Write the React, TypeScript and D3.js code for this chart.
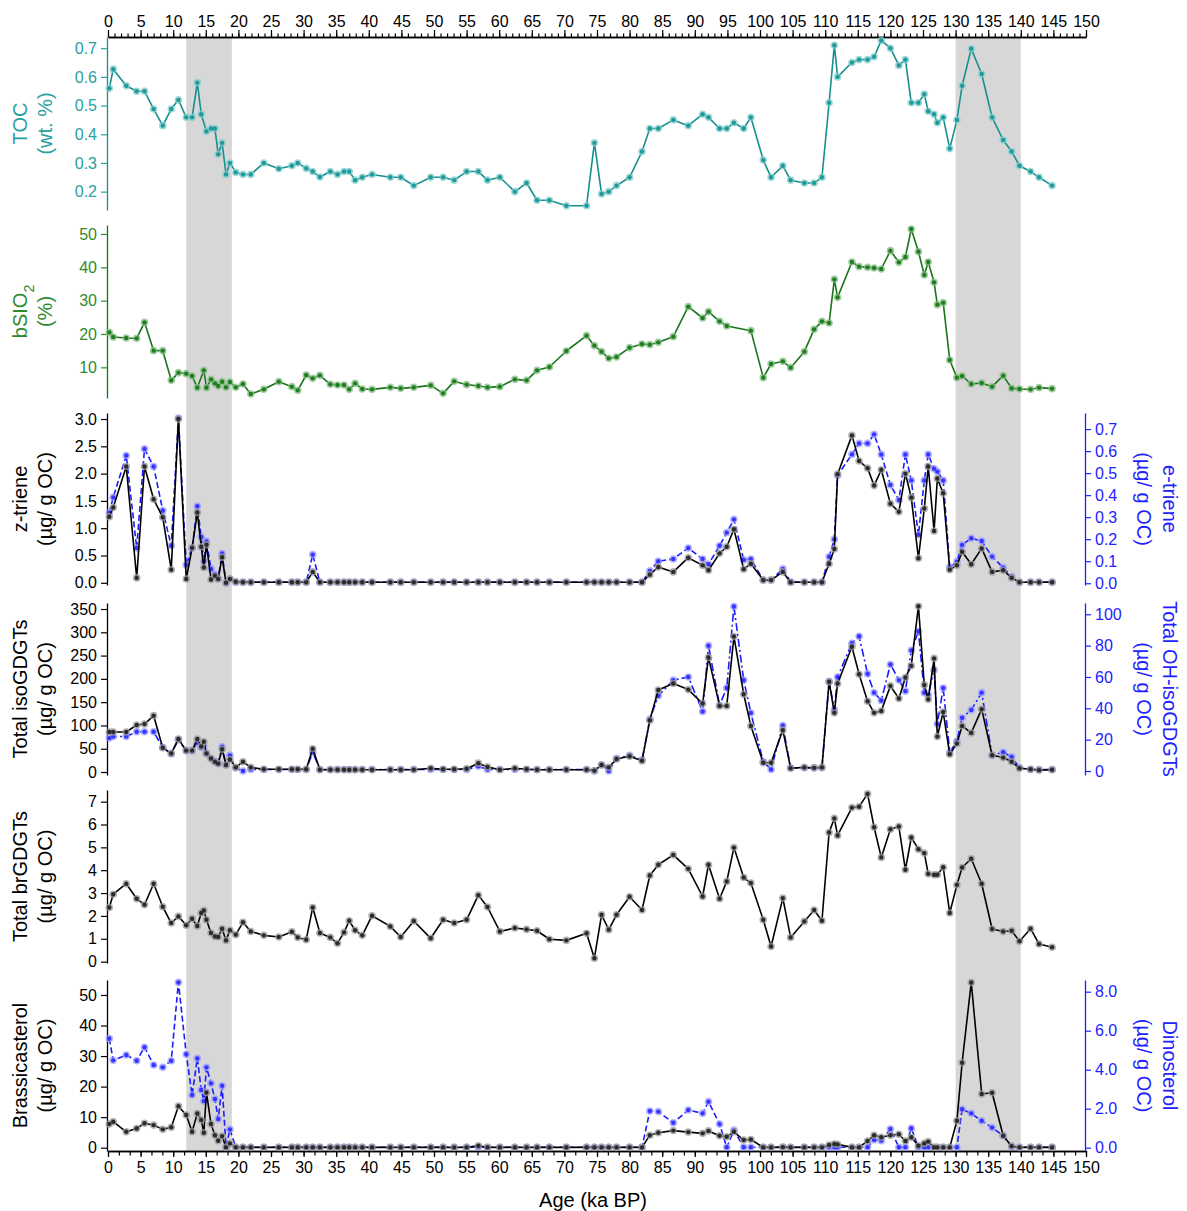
import React, { useEffect, useRef } from "react";
import * as d3 from "d3";

// sample ages (ka BP), shared by every record
const AGE = [
  0.2, 0.8, 2.8, 4.4, 5.6, 7.0, 8.4, 9.7, 10.8, 12.0,
  12.9, 13.7, 14.3, 14.7, 15.1, 15.8, 16.4, 16.9, 17.5, 18.1,
  18.7, 19.6, 20.7, 21.9, 23.9, 26.2, 28.2, 29.1, 30.4, 31.4,
  32.5, 34.1, 35.2, 36.2, 37.0, 37.9, 39.0, 40.5, 43.3, 44.9,
  46.9, 49.5, 51.4, 53.1, 55.0, 56.8, 58.2, 60.1, 62.4, 64.2,
  65.8, 67.7, 70.3, 73.4, 74.6, 75.7, 76.8, 78.0, 80.0, 81.9,
  83.1, 84.4, 86.7, 89.0, 91.2, 92.1, 93.8, 94.9, 96.0, 97.5,
  98.6, 100.5, 101.7, 103.5, 104.7, 106.8, 108.3, 109.5, 110.6, 111.4,
  111.9, 114.1, 115.2, 116.5, 117.5, 118.6, 120.0, 121.3, 122.3, 123.2,
  124.3, 125.2, 125.8, 126.7, 127.2, 128.1, 129.1, 130.2, 131.0, 132.4,
  134.0, 135.6, 137.3, 138.6, 139.8, 141.5, 142.8, 144.8,
];

const TOC = [
  0.56, 0.627, 0.569, 0.55, 0.55, 0.488, 0.43, 0.488, 0.52, 0.459,
  0.459, 0.58, 0.47, null, 0.41, 0.42, 0.42, 0.33, 0.37, 0.26,
  0.30, 0.267, 0.26, 0.26, 0.30, 0.28, 0.29, 0.30, 0.281, 0.27,
  0.251, 0.27, 0.26, 0.27, 0.27, 0.24, 0.25, 0.26, 0.25, 0.25,
  0.221, 0.25, 0.25, 0.24, 0.27, 0.27, 0.24, 0.25, 0.20, 0.23,
  0.17, 0.17, 0.151, 0.151, 0.37, 0.192, 0.20, 0.221, 0.25, 0.34,
  0.42, 0.42, 0.45, 0.43, 0.47, 0.459, 0.42, 0.42, 0.44, 0.42,
  0.459, 0.31, 0.25, 0.29, 0.24, 0.23, 0.23, 0.25, 0.51, 0.71,
  0.60, 0.65, 0.66, 0.66, 0.67, 0.727, 0.70, 0.64, 0.66, 0.51,
  0.51, 0.54, 0.48, 0.47, 0.44, 0.459, 0.35, 0.45, 0.569, 0.698,
  0.61, 0.459, 0.38, 0.34, 0.29, 0.27, 0.25, 0.221,
];

const BSIO2 = [
  20.5, 19.1, 18.8, 18.7, 23.5, 15.0, 15.0, 6.1, 8.4, 8.1,
  7.4, 3.9, null, 9.1, 3.9, 6.4, 5.2, 4.4, 5.7, 4.0,
  5.6, 4.0, 5.0, 2.0, 3.4, 5.7, 4.2, 3.1, 7.7, 6.7,
  7.6, 4.9, 4.7, 4.7, 3.4, 5.2, 3.5, 3.4, 4.0, 3.7,
  4.0, 4.6, 2.2, 5.8, 4.8, 4.4, 4.0, 4.2, 6.4, 6.1,
  9.1, 10.1, 14.9, 19.5, 16.5, 14.7, 12.7, 13.1, 15.9, 17.0,
  16.8, 17.5, 19.2, 28.2, 24.8, 26.7, 23.8, 22.4, null, null,
  21.0, 6.9, 11.0, 11.8, 9.9, 14.7, 21.4, 23.8, 23.3, 36.4,
  31.0, 41.6, 40.2, 40.0, 39.8, 39.5, 45.0, 41.5, 43.1, 51.5,
  44.7, 37.7, 41.6, 35.5, 28.8, 29.4, 12.2, 6.9, 7.4, 5.0,
  5.3, 4.2, 7.5, 3.7, 3.5, 3.4, 3.9, 3.6,
];

const Z_TRIENE = [
  1.21, 1.38, 2.13, 0.09, 2.13, 1.53, 1.20, 0.24, 3.0, 0.07,
  0.64, 1.29, 0.66, 0.28, 0.70, 0.06, 0.13, 0.07, 0.47, 0.0,
  0.07, 0.02, 0.01, 0.01, 0.01, 0.01, 0.01, 0.01, 0.01, 0.2,
  0.01, 0.01, 0.01, 0.01, 0.01, 0.01, 0.01, 0.01, 0.01, 0.01,
  0.01, 0.01, 0.01, 0.01, 0.01, 0.01, 0.01, 0.01, 0.01, 0.01,
  0.01, 0.01, 0.01, 0.01, 0.01, 0.01, 0.01, 0.01, 0.01, 0.01,
  0.15, 0.29, 0.2, 0.46, 0.32, 0.23, 0.54, 0.66, 0.98, 0.25,
  0.35, 0.05, 0.05, 0.2, 0.01, 0.01, 0.01, 0.01, 0.35, 0.62,
  1.99, 2.70, 2.23, 2.10, 1.78, 2.07, 1.45, 1.30, 2.0, 1.56,
  0.45, 1.36, 2.13, 0.95, 1.91, 1.64, 0.24, 0.32, 0.57, 0.34,
  0.63, 0.2, 0.23, 0.09, 0.01, 0.01, 0.01, 0.01,
];

const E_TRIENE = [
  0.32, 0.39, 0.58, 0.16, 0.61, 0.53, 0.33, 0.17, 0.75, 0.083,
  0.16, 0.35, 0.21, 0.10, 0.19, 0.065, 0.04, 0.02, 0.135, 0.0,
  0.02, 0.005, 0.005, 0.005, 0.005, 0.005, 0.005, 0.005, 0.005, 0.13,
  0.005, 0.005, 0.005, 0.005, 0.005, 0.005, 0.005, 0.005, 0.005, 0.005,
  0.005, 0.005, 0.005, 0.005, 0.005, 0.005, 0.005, 0.005, 0.005, 0.005,
  0.005, 0.005, 0.005, 0.005, 0.005, 0.005, 0.005, 0.005, 0.005, 0.005,
  0.056, 0.10, 0.11, 0.16, 0.11, 0.086, 0.17, 0.23, 0.29, 0.106,
  0.11, 0.015, 0.015, 0.065, 0.005, 0.005, 0.005, 0.005, 0.12, 0.2,
  0.49, 0.585, 0.635, 0.635, 0.676, 0.585, 0.446, 0.378, 0.585, 0.467,
  0.22, 0.467, 0.585, 0.52, 0.507, 0.467, 0.073, 0.098, 0.174, 0.204,
  0.192, 0.121, 0.071, 0.03, 0.005, 0.005, 0.005, 0.005,
];

const ISO_GDGT = [
  86, 86, 86, 101, 103, 121, 52, 40, 71, 46,
  46, 71, 55, 65, 40, 29, 22, 18, 49, 15,
  27, 10, 22, 10, 6, 6, 6, 6, 6, 50,
  5, 5, 5, 5, 5, 5, 5, 5, 5, 5,
  5, 8, 6, 6, 7, 19, 11, 5, 8, 6,
  5, 5, 5, 5, 3, 15, 10, 28, 34, 24,
  111, 176, 190, 177, 147, 246, 142, 142, 291, 167,
  99, 20, 20, 90, 8, 10, 9, 10, 194, 127,
  190, 269, 210, 152, 127, 131, 185, 158, 203, 228,
  356, 187, 156, 244, 76, 129, 38, 61, 99, 84,
  135, 36, 31, 22, 8, 6, 4, 5,
];

const OH_ISO_GDGT = [
  21, 22, 22, 25, 25, 25, 15, 11, 20, 13,
  13, 18, 15, 16, 11, 8, 6, 5, 15.5, 4,
  10, 2, 0, 1, 1, 1, 1, 1, 1, 12,
  1, 1, 1, 1, 1, 1, 1, 1, 1, 1,
  1, 1, 1, 1, 1, 3, 1, 1, 1, 1,
  1, 1, 1, 1, 0, 4, 0, 8, 10, 7,
  33, 48, 58, 60, 38, 80, 42, 53, 105, 58,
  37, 6, 1, 29, 2, 2, 2, 2, 57, 39,
  60, 81.5, 86, 62, 50, 45, 68, 58, 51, 77,
  89, 50, 48.5, 64.5, 30, 53, 12, 19, 34, 39,
  50, 10, 12, 9, 2, 1, 1, 1,
];

const BR_GDGT = [
  2.37, 2.95, 3.41, 2.75, 2.49, 3.41, 2.40, 1.69, 1.98, 1.59,
  1.88, 1.56, 2.13, 2.24, 1.83, 1.25, 1.10, 1.08, 1.44, 0.93,
  1.37, 1.18, 1.72, 1.32, 1.15, 1.08, 1.31, 1.06, 0.96, 2.37,
  1.25, 1.06, 0.80, 1.28, 1.79, 1.37, 1.15, 2.01, 1.54, 1.08,
  1.78, 1.02, 1.83, 1.69, 1.83, 2.91, 2.39, 1.32, 1.47, 1.41,
  1.35, 0.98, 0.93, 1.24, 0.15, 2.05, 1.40, 2.05, 2.84, 2.26,
  3.77, 4.24, 4.67, 4.06, 2.85, 4.24, 2.75, 3.51, 4.99, 3.68,
  3.44, 1.83, 0.66, 2.78, 1.06, 1.76, 2.26, 1.79, 5.65, 6.27,
  5.52, 6.74, 6.78, 7.34, 5.88, 4.56, 5.79, 5.91, 4.02, 5.43,
  4.92, 4.75, 3.84, 3.80, 3.80, 4.13, 2.13, 3.36, 4.12, 4.50,
  3.41, 1.43, 1.32, 1.35, 0.89, 1.44, 0.77, 0.63,
];

const BRASSICASTEROL = [
  7.75, 8.5, 5.2, 6.3, 8.0, 7.4, 6.0, 6.7, 13.6, 10.7,
  5.2, 11.2, 9.1, 4.9, 18.1, 7.75, 4.1, 2.3, 3.8, 0.1,
  1.4, 0.1, 0.1, 0.1, 0.1, 0.1, 0.1, 0.1, 0.1, 0.1,
  0.1, 0.1, 0.1, 0.1, 0.1, 0.1, 0.1, 0.1, 0.1, 0.1,
  0.1, 0.1, 0.1, 0.1, 0.1, 0.65, 0.1, 0.1, 0.1, 0.1,
  0.1, 0.1, 0.1, 0.1, 0.1, 0.1, 0.1, 0.1, 0.1, 0.1,
  4.1, 4.9, 5.6, 5.1, 4.7, 5.5, 3.9, 3.6, 5.2, 2.5,
  2.7, 0.1, 0.1, 0.2, 0.1, 0.1, 0.1, 0.1, 0.9, 1.2,
  1.1, 0.1, 0.1, 2.2, 4.1, 3.4, 4.1, 4.4, 2.2, 3.4,
  0.65, 1.4, 2.0, 0.1, 0.1, 0.1, 0.1, 8.8, 27.8, 54.1,
  17.6, 18.0, 3.9, 0.5, 0.1, 0.1, 0.1, 0.1,
];

const DINOSTEROL = [
  5.6, 4.48, 4.75, 4.46, 5.15, 4.24, 4.12, 4.46, 8.48, 4.79,
  2.7, 4.58, 2.96, 2.39, 4.12, 3.3, 2.5, 1.47, 3.18, 0.05,
  0.94, 0.02, 0.02, 0.02, 0.02, 0.02, 0.02, 0.02, 0.02, 0.02,
  0.02, 0.02, 0.02, 0.02, 0.02, 0.02, 0.02, 0.02, 0.02, 0.02,
  0.02, 0.02, 0.02, 0.02, 0.02, 0.02, 0.02, 0.02, 0.02, 0.02,
  0.02, 0.02, 0.02, 0.02, 0.02, 0.02, 0.02, 0.02, 0.02, 0.02,
  1.88, 1.85, 1.28, 1.93, 1.76, 2.36, 1.21, 0.02, 0.9, 0.02,
  0.02, 0.02, 0.02, 0.02, 0.02, 0.02, 0.02, 0.02, 0.02, 0.02,
  0.02, 0.02, 0.02, 0.02, 0.4, 0.36, 0.96, 0.02, 0.02, 1.0,
  0.02, 0.02, 0.02, 0.02, 0.02, 0.02, 0.02, 0.02, 1.97, 1.76,
  1.38, 1.03, 0.62, 0.05, 0.02, 0.02, 0.02, 0.02,
];

// shaded intervals (ka BP)
const BANDS = [[12, 19], [130, 140]];
const AGE_TICKS = d3.range(0, 151, 5);

// ---- layout / style ----
const W = 1187, H = 1211;
const X0 = 108, X1 = 1086;
const AX_L = 107, AX_R = 1085;
const TOP_Y = 37, BOT_Y = 1151;
const FONT = "'Liberation Sans', Arial, sans-serif";
const TICK_FS = 16;
const TITLE_FS = 20;

const TEAL = { line: "#168f8f", fill: "#1f9a9a", halo: "#86cccc", text: "#2aa0a0" };
const GREEN = { line: "#1a741a", fill: "#217d21", halo: "#86bd86", text: "#2f8a2f" };
const BLACK = { line: "#000000", fill: "#2b2b2b", halo: "#9a9a9a", text: "#000000" };
const BLUE = { line: "#1c1cff", fill: "#3535ff", halo: "#9a9aff", text: "#2222ff" };

const UG = "(µg/ g OC)";

const PANELS: any[] = [
  {
    top: TOP_Y, bottom: 210,
    left: { domain: [0.136, 0.739], ticks: [0.2, 0.3, 0.4, 0.5, 0.6, 0.7], fmt: ".1f", c: TEAL, title: [["TOC"], ["(wt. %)"]], values: TOC },
  },
  {
    top: 225, bottom: 398,
    left: { domain: [0.8, 52.7], ticks: [10, 20, 30, 40, 50], fmt: "d", c: GREEN, title: [["bSIO", "2"], ["(%)"]], values: BSIO2 },
  },
  {
    top: 413, bottom: 585,
    left: { domain: [-0.04, 3.11], ticks: [0, 0.5, 1, 1.5, 2, 2.5, 3], fmt: ".1f", c: BLACK, title: [["z-triene"], [UG]], values: Z_TRIENE },
    right: { domain: [-0.008, 0.773], ticks: [0, 0.1, 0.2, 0.3, 0.4, 0.5, 0.6, 0.7], fmt: ".1f", c: BLUE, title: [["e-triene"], [UG]], values: E_TRIENE, dash: "6,3" },
  },
  {
    top: 603, bottom: 775,
    left: { domain: [-6.4, 362.9], ticks: [0, 50, 100, 150, 200, 250, 300, 350], fmt: "d", c: BLACK, title: [["Total isoGDGTs"], [UG]], values: ISO_GDGT },
    right: { domain: [-2.55, 107.2], ticks: [0, 20, 40, 60, 80, 100], fmt: "d", c: BLUE, title: [["Total OH-isoGDGTs"], [UG]], values: OH_ISO_GDGT, dash: "8,3,2,3" },
  },
  {
    top: 790, bottom: 963,
    left: { domain: [-0.06, 7.51], ticks: [0, 1, 2, 3, 4, 5, 6, 7], fmt: "d", c: BLACK, title: [["Total brGDGTs"], [UG]], values: BR_GDGT },
  },
  {
    top: 980, bottom: BOT_Y,
    left: { domain: [-1.08, 54.9], ticks: [0, 10, 20, 30, 40, 50], fmt: "d", c: BLACK, title: [["Brassicasterol"], [UG]], values: BRASSICASTEROL },
    right: { domain: [-0.17, 8.6], ticks: [0, 2, 4, 6, 8], fmt: ".1f", c: BLUE, title: [["Dinosterol"], [UG]], values: DINOSTEROL, dash: "6,3" },
  },
];

function styleAxis(g: any, color: string) {
  g.attr("font-family", FONT).attr("font-size", TICK_FS);
  g.select(".domain").attr("stroke", color).attr("stroke-width", 1.3);
  g.selectAll(".tick line").attr("stroke", color).attr("stroke-width", 1.2);
  g.selectAll(".tick text").attr("fill", color);
}

const App = () => {
  const svgRef = useRef<SVGSVGElement>(null);

  useEffect(() => {
    const svg = d3.select(svgRef.current);
    svg.selectAll("*").remove();

    const x = d3.scaleLinear().domain([0, 150]).range([X0, X1]);

    // shaded intervals
    svg.append("g").selectAll("rect").data(BANDS).join("rect")
      .attr("x", (d: number[]) => x(d[0]))
      .attr("width", (d: number[]) => x(d[1]) - x(d[0]))
      .attr("y", TOP_Y).attr("height", BOT_Y - TOP_Y)
      .attr("fill", "#d7d7d7");

    // top age axis
    const topMinor = svg.append("g").attr("transform", `translate(0,${TOP_Y})`)
      .call(d3.axisTop(x).tickValues(d3.range(0, 151, 1)).tickSize(3.5).tickSizeOuter(0).tickFormat(() => ""));
    styleAxis(topMinor, "#000");
    const topMajor = svg.append("g").attr("transform", `translate(0,${TOP_Y})`)
      .call(d3.axisTop(x).tickValues(AGE_TICKS).tickSize(7).tickSizeOuter(0).tickPadding(3).tickFormat(d3.format("d")));
    styleAxis(topMajor, "#000");

    // bottom age axis
    const botMinor = svg.append("g").attr("transform", `translate(0,${BOT_Y})`)
      .call(d3.axisBottom(x).tickValues(d3.range(0, 150.01, 5 / 3)).tickSize(4.5).tickSizeOuter(0).tickFormat(() => ""));
    styleAxis(botMinor, "#000");
    const botMajor = svg.append("g").attr("transform", `translate(0,${BOT_Y})`)
      .call(d3.axisBottom(x).tickValues(AGE_TICKS).tickSize(6).tickSizeOuter(0).tickPadding(5).tickFormat(d3.format("d")));
    styleAxis(botMajor, "#000");

    svg.append("text")
      .attr("x", (X0 + X1) / 2 - 4).attr("y", BOT_Y + 56)
      .attr("text-anchor", "middle").attr("font-family", FONT).attr("font-size", TITLE_FS)
      .text("Age (ka BP)");

    PANELS.forEach((p: any) => {
      const g = svg.append("g");
      const cy = (p.top + p.bottom) / 2;
      const sides = p.right ? [["right", p.right], ["left", p.left]] : [["left", p.left]];

      // axes and titles
      sides.forEach(([side, s]: any) => {
        const y = d3.scaleLinear().domain(s.domain).range([p.bottom, p.top]);
        s.y = y;
        const axis = (side === "left" ? d3.axisLeft(y) : d3.axisRight(y))
          .tickValues(s.ticks).tickSize(6).tickSizeOuter(0).tickPadding(4)
          .tickFormat(d3.format(s.fmt));
        const ag = g.append("g").attr("transform", `translate(${side === "left" ? AX_L : AX_R},0)`).call(axis);
        styleAxis(ag, s.c.text);
        ag.select(".domain").attr("stroke", s.c.line);

        const xs = side === "left" ? [22, 47] : [1168, 1142];
        s.title.forEach((parts: string[], i: number) => {
          const t = g.append("text")
            .attr("transform", `translate(${xs[i]},${cy}) rotate(${side === "left" ? -90 : 90})`)
            .attr("text-anchor", "middle").attr("dominant-baseline", "middle")
            .attr("font-family", FONT).attr("font-size", TITLE_FS).attr("fill", s.c.text);
          t.append("tspan").text(parts[0]);
          if (parts[1]) t.append("tspan").attr("baseline-shift", "sub").attr("font-size", 14).text(parts[1]);
        });
      });

      // series: right (blue) below, left on top
      sides.forEach(([, s]: any) => {
        const pts = AGE.map((a, i) => [a, s.values[i]]).filter((d) => d[1] != null) as [number, number][];
        const line = d3.line<[number, number]>().x((d) => x(d[0])).y((d) => s.y(d[1]));
        g.append("path").attr("d", line(pts)).attr("fill", "none")
          .attr("stroke", s.c.line).attr("stroke-width", 1.6)
          .attr("stroke-dasharray", s.dash || null).attr("stroke-linejoin", "round");
        const mk = g.append("g");
        mk.selectAll("circle.h").data(pts).join("circle").attr("class", "h")
          .attr("cx", (d) => x(d[0])).attr("cy", (d) => s.y(d[1])).attr("r", 3.8)
          .attr("fill", s.c.halo).attr("fill-opacity", 0.75);
        mk.selectAll("circle.c").data(pts).join("circle").attr("class", "c")
          .attr("cx", (d) => x(d[0])).attr("cy", (d) => s.y(d[1])).attr("r", 2.2)
          .attr("fill", s.c.fill);
      });
    });
  }, []);

  return (
    <svg ref={svgRef} width={W} height={H}
      style={{ position: "absolute", left: 0, top: 0, background: "#fff" }} />
  );
};

export default App;
